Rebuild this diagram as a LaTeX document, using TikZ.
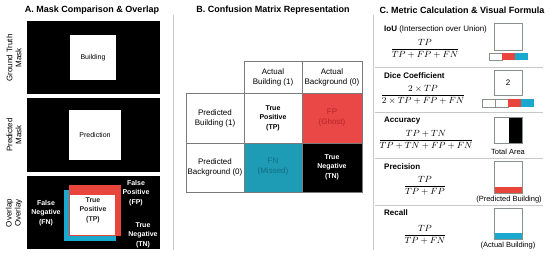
\documentclass[tikz,border=0pt]{standalone}
\usepackage[no-math]{fontspec}
\setmainfont{Liberation Sans}
\usepackage{amsmath}
\definecolor{fpred}{HTML}{E8453C}
\definecolor{fncyan}{HTML}{1BA8CF}
\definecolor{tblred}{HTML}{EA4747}
\definecolor{tblcyan}{HTML}{1E9BB5}
\definecolor{fptext}{HTML}{B52626}
\definecolor{fntext}{HTML}{126E84}
\definecolor{sepgray}{HTML}{C8C8C8}
\definecolor{gridgray}{HTML}{7A7A7A}
\definecolor{boxgray}{HTML}{8A918A}
\begin{document}
\begin{tikzpicture}[x=1pt,y=-1pt,
  paneltitle/.style={font=\fontsize{9}{11}\selectfont\bfseries, inner sep=0pt},
  sidelabel/.style={font=\fontsize{8}{9}\selectfont, rotate=90, align=center, inner sep=0pt},
  masktext/.style={font=\fontsize{7}{8}\selectfont, inner sep=0pt},
  ovtext/.style={font=\fontsize{7}{9.5}\selectfont\bfseries, align=center, inner sep=0pt},
  tbltext/.style={font=\fontsize{8}{10}\selectfont, align=center, inner sep=0pt},
  tblbold/.style={font=\fontsize{7}{9.5}\selectfont\bfseries, align=center, inner sep=0pt},
  metriclabel/.style={font=\fontsize{8}{10}\selectfont, anchor=west, inner sep=0pt},
  formula/.style={font=\fontsize{9}{11}\selectfont, inner sep=0pt},
  caption/.style={font=\fontsize{7.5}{9}\selectfont, inner sep=0pt},
  sepline/.style={draw=sepgray, line width=0.8pt},
  grid/.style={draw=gridgray, line width=0.6pt},
  vbox/.style={draw=boxgray, line width=0.7pt},
]
\useasboundingbox[fill=white] (0,0) rectangle (550,260);

% ---------------- Panel A ----------------
\node[paneltitle] (tA) at (92,10) {A. Mask Comparison \& Overlap};

\fill[black] (27,21) rectangle (160,94);
\fill[white] (70,35) rectangle (116,80);
\node[masktext] (bld) at (93,58) {Building};
\node[sidelabel] (lgt) at (14,58) {Ground Truth\\Mask};

\fill[black] (27,98) rectangle (160,172);
\fill[white] (69,110) rectangle (121,160);
\node[masktext] (prd) at (95,135) {Prediction};
\node[sidelabel] (lpm) at (14,135) {Predicted\\Mask};

\fill[black] (27,176) rectangle (160,249);
\fill[fncyan] (64,190) rectangle (116,241);
\fill[fpred] (69,185) rectangle (121,236);
\fill[white] (70,195) rectangle (115,235);
\node[sidelabel] (lov) at (14,213) {Overlap\\Overlay};
\node[ovtext, text=white] (ofn) at (46,213) {False\\Negative\\(FN)};
\node[ovtext, text=black!85] (otp) at (93,210) {True\\Positive\\(TP)};
\node[ovtext, text=white] (ofp) at (136,193) {False\\Positive\\(FP)};
\node[ovtext, text=white] (otn) at (143,235) {True\\Negative\\(TN)};

% separators
\draw[sepline] (173,15) -- (173,250);
\draw[sepline] (373,15) -- (373,250);

% ---------------- Panel B ----------------
\node[paneltitle] (tB) at (273,10) {B. Confusion Matrix Representation};

\fill[tblred] (302,93) rectangle (362,143);
\fill[tblcyan] (244,143) rectangle (302,192);
\fill[black] (302,143) rectangle (362,192);
\draw[grid] (244,61) rectangle (362,93);
\draw[grid] (302,61) -- (302,93);
\draw[grid] (186,93) rectangle (362,192);
\draw[grid] (244,93) -- (244,192);
\draw[grid] (302,93) -- (302,192);
\draw[grid] (186,143) -- (362,143);

\node[tbltext] (hab) at (273,77) {Actual\\Building (1)};
\node[tbltext] (hbg) at (332,77) {Actual\\Background (0)};
\node[tbltext] (rpb) at (215,118) {Predicted\\Building (1)};
\node[tbltext] (rpg) at (215,167) {Predicted\\Background (0)};
\node[tblbold] (ctp) at (273,118) {True\\Positive\\(TP)};
\node[tbltext, text=fptext] (cfp) at (332,118) {FP\\(Ghost)};
\node[tbltext, text=fntext] (cfn) at (273,167) {FN\\(Missed)};
\node[tblbold, text=white] (ctn) at (332,167) {True\\Negative\\(TN)};

% ---------------- Panel C ----------------
\node[paneltitle] (tC) at (462,10) {C. Metric Calculation \& Visual Formula};

\draw[sepline] (375,67) -- (543,67);
\draw[sepline] (375,112) -- (543,112);
\draw[sepline] (375,158) -- (543,158);
\draw[sepline] (375,205) -- (543,205);

% IoU
\node[metriclabel] (liou) at (384,29) {\textbf{IoU} (Intersection over Union)};
\node[formula] (fiou) at (425,49) {$\dfrac{TP}{TP+FP+FN}$};
\draw[vbox] (494,23) rectangle (522,50);
\draw[vbox, fill=white] (489,53) rectangle (502,60);
\fill[fpred] (502,53) rectangle (515,60);
\fill[fncyan] (515,53) rectangle (528,60);

% Dice
\node[metriclabel] (ldice) at (384,76) {\textbf{Dice Coefficient}};
\node[formula] (fdice) at (423,95) {$\dfrac{2\times TP}{2\times TP+FP+FN}$};
\draw[vbox] (494,70) rectangle (522,95);
\node[masktext, font=\fontsize{8}{9}\selectfont] (dtwo) at (508,83) {2};
\draw[vbox, fill=white] (482,99) rectangle (495,107);
\draw[vbox, fill=white] (495,99) rectangle (508,107);
\fill[fpred] (508,99) rectangle (521,107);
\fill[fncyan] (521,99) rectangle (534,107);

% Accuracy
\node[metriclabel] (lacc) at (384,121) {\textbf{Accuracy}};
\node[formula] (facc) at (426,140) {$\dfrac{TP+TN}{TP+TN+FP+FN}$};
\fill[black] (508.5,117) rectangle (522,143);
\draw[vbox] (494,117) rectangle (522,143);
\node[caption] (ctot) at (508,152) {Total Area};

% Precision
\node[metriclabel] (lpre) at (384,167) {\textbf{Precision}};
\node[formula] (fpre) at (425,186) {$\dfrac{TP}{TP+FP}$};
\fill[fpred] (494,187) rectangle (522,193);
\draw[vbox] (494,161) rectangle (522,193);
\node[caption] (cpre) at (509,200) {(Predicted Building)};

% Recall
\node[metriclabel] (lrec) at (384,213) {\textbf{Recall}};
\node[formula] (frec) at (425,235) {$\dfrac{TP}{TP+FN}$};
\fill[fncyan] (494,233) rectangle (522,239);
\draw[vbox] (494,208) rectangle (522,239);
\node[caption] (crec) at (508,246) {(Actual Building)};
\end{tikzpicture}
\end{document}
